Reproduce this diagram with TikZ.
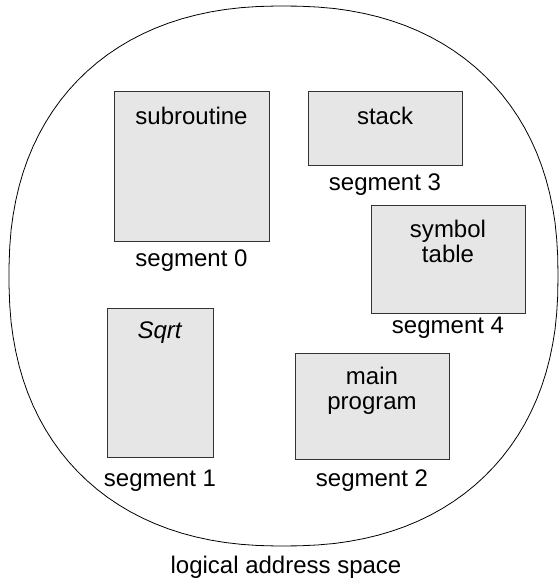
\documentclass[tikz,border=0pt]{standalone}
\usepackage{fontspec}
\setmainfont{Liberation Sans}
\usetikzlibrary{positioning}

\definecolor{segfill}{HTML}{E6E6E6}
\definecolor{segline}{HTML}{333333}

\begin{document}
\begin{tikzpicture}[
    x=0.5pt, y=-0.5pt,
    every node/.style={font=\fontsize{12}{12.5}\selectfont, outer sep=0pt},
    seg/.style={draw=segline, fill=segfill, line width=0.5pt, inner sep=0pt},
    lbl/.style={inner sep=0pt, align=center}
]

\useasboundingbox (0,0) rectangle (560,582);

% address space outline
\draw[line width=0.4pt] plot[domain=0:360, samples=120, variable=\t]
    ({283.5+274.5*sign(cos(\t))*abs(cos(\t))^0.88}, {276+270*sign(sin(\t))*abs(sin(\t))^0.88}) -- cycle;
\coordinate (lasbot) at (286,546);

\node[seg, minimum width=77.5pt, minimum height=75pt] (s0) at (191.5,167) {};
\node[seg, minimum width=53pt, minimum height=74.5pt] (s1) at (160,382.5) {};
\node[seg, minimum width=77pt, minimum height=53pt] (s2) at (372,406) {};
\node[seg, minimum width=77pt, minimum height=37pt] (s3) at (385,129) {};
\node[seg, minimum width=77pt, minimum height=53.5pt] (s4) at (448,259.5) {};

\node[lbl, below=7.5pt of s0.north] {subroutine};
\node[lbl, below=7pt of s1.north] {\textit{Sqrt}};
\node[lbl, below=7pt of s2.north] {main\\program};
\node[lbl, below=7.5pt of s3.north] {stack};
\node[lbl, below=7pt of s4.north] {symbol\\table};

\node[lbl, below=4pt of s0] {segment 0};
\node[lbl, below=6.5pt of s1] {segment 1};
\node[lbl, below=5.5pt of s2] {segment 2};
\node[lbl, below=4pt of s3] {segment 3};
\node[lbl, below=2pt of s4] {segment 4};

\node[lbl, below=5pt of lasbot] {logical address space};

\end{tikzpicture}
\end{document}
